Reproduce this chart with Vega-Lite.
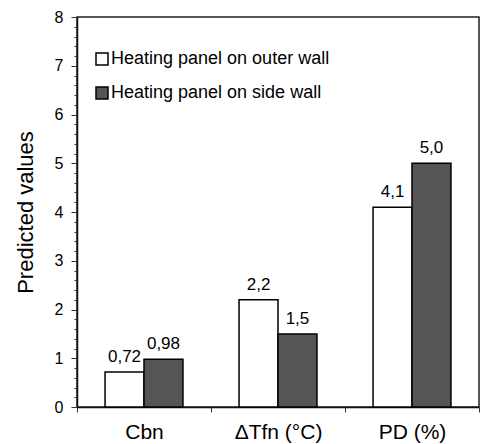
{
  "$schema": "https://vega.github.io/schema/vega-lite/v6.json",
  "width": 402,
  "height": 390,
  "autosize": {"type": "none"},
  "padding": {"left": 77, "top": 17, "right": 6, "bottom": 37},
  "background": "#ffffff",
  "config": {
    "font": "Liberation Sans",
    "view": {"stroke": "#222222", "strokeWidth": 1.5},
    "axis": {
      "domainColor": "#111111",
      "domainWidth": 1.5,
      "tickColor": "#333333",
      "labelColor": "#000000",
      "titleColor": "#000000",
      "grid": false,
      "labelFont": "Liberation Sans",
      "titleFont": "Liberation Sans",
      "titleFontWeight": "normal"
    }
  },
  "data": {
    "values": [
      {"parameter": "Cbn", "series": "Heating panel on outer wall", "value": 0.72, "label": "0,72"},
      {"parameter": "Cbn", "series": "Heating panel on side wall", "value": 0.98, "label": "0,98"},
      {"parameter": "ΔTfn (°C)", "series": "Heating panel on outer wall", "value": 2.2, "label": "2,2"},
      {"parameter": "ΔTfn (°C)", "series": "Heating panel on side wall", "value": 1.5, "label": "1,5"},
      {"parameter": "PD (%)", "series": "Heating panel on outer wall", "value": 4.1, "label": "4,1"},
      {"parameter": "PD (%)", "series": "Heating panel on side wall", "value": 5.0, "label": "5,0"}
    ]
  },
  "encoding": {
    "x": {
      "field": "parameter",
      "type": "nominal",
      "sort": ["Cbn", "ΔTfn (°C)", "PD (%)"],
      "scale": {"paddingInner": 0, "paddingOuter": 0},
      "axis": {
        "title": null,
        "labelAngle": 0,
        "tickBand": "extent",
        "tickSize": 5,
        "labelPadding": 9,
        "labelFontSize": 21
      }
    },
    "xOffset": {
      "field": "series",
      "type": "nominal",
      "sort": ["Heating panel on outer wall", "Heating panel on side wall"],
      "scale": {"paddingInner": 0, "paddingOuter": 0.72}
    },
    "y": {
      "field": "value",
      "type": "quantitative",
      "scale": {"domain": [0, 8], "nice": false},
      "axis": {
        "title": "Predicted values",
        "titleFontSize": 22,
        "titlePadding": 17,
        "labelFontSize": 16,
        "labelPadding": 8,
        "values": [0, 0.2, 0.4, 0.6, 0.8, 1, 1.2, 1.4, 1.6, 1.8, 2, 2.2, 2.4, 2.6, 2.8, 3, 3.2, 3.4, 3.6, 3.8, 4, 4.2, 4.4, 4.6, 4.8, 5, 5.2, 5.4, 5.6, 5.8, 6, 6.2, 6.4, 6.6, 6.8, 7, 7.2, 7.4, 7.6, 7.8, 8],
        "labelExpr": "datum.value % 1 === 0 ? '' + datum.value : ''",
        "tickSize": {"condition": {"test": "datum.value % 1 === 0", "value": 6}, "value": 3}
      }
    }
  },
  "layer": [
    {
      "mark": {"type": "bar", "stroke": "#000000", "strokeWidth": 1.5},
      "encoding": {
        "fill": {
          "field": "series",
          "type": "nominal",
          "scale": {
            "domain": ["Heating panel on outer wall", "Heating panel on side wall"],
            "range": ["#ffffff", "#555555"]
          },
          "legend": {
            "title": null,
            "orient": "none",
            "legendX": 16,
            "legendY": 33,
            "symbolType": "square",
            "symbolSize": 144,
            "symbolStrokeColor": "#000000",
            "symbolStrokeWidth": 1.5,
            "labelFontSize": 18,
            "labelLimit": 400,
            "labelOffset": 0,
            "rowPadding": 16,
            "labelColor": "#000000",
            "padding": 0
          }
        }
      }
    },
    {
      "mark": {"type": "text", "dy": -10, "baseline": "alphabetic", "fontSize": 17, "color": "#000000"},
      "encoding": {"text": {"field": "label"}}
    }
  ]
}
